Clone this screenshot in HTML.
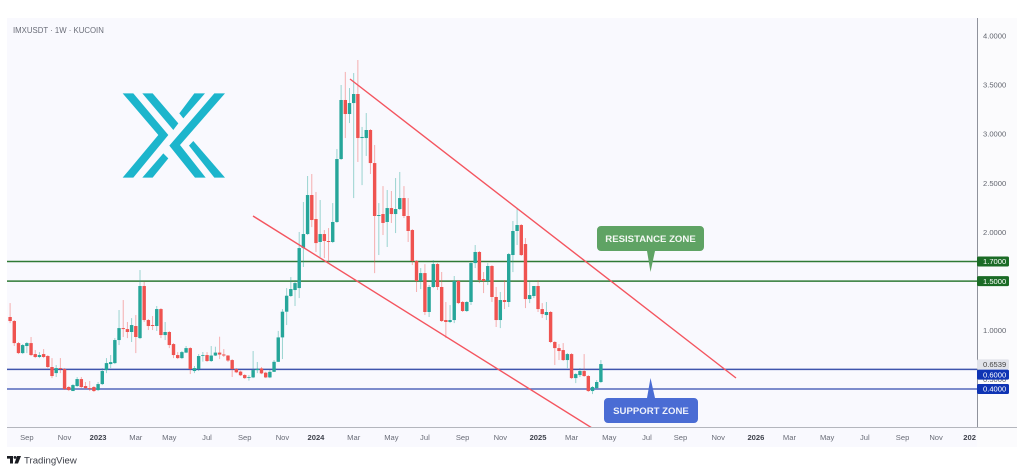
<!DOCTYPE html>
<html lang="en">
<head>
<meta charset="utf-8">
<title>IMXUSDT chart</title>
<style>
html,body{margin:0;padding:0;background:#fff;width:1024px;height:472px;overflow:hidden}
svg{display:block;font-family:"Liberation Sans",sans-serif}
</style>
</head>
<body>
<svg id="chart" xmlns="http://www.w3.org/2000/svg" width="1024" height="472" viewBox="0 0 1024 472">
  <defs><clipPath id="plot-clip"><rect x="7" y="19" width="970" height="408"/></clipPath></defs>
  <rect x="7" y="18" width="1010" height="429" fill="#f9f9fe"/>
  <rect x="977" y="18" width="40" height="429" fill="#fbfbfd"/>
  <text x="13" y="33" font-size="7.8" fill="#6a6d78">IMXUSDT · 1W · KUCOIN</text>
  <g id="hlines"></g>
  <g id="candles"></g>
  <g clip-path="url(#plot-clip)">
    <line x1="350" y1="79" x2="736" y2="378" stroke="#f4555f" stroke-width="1.4"/>
    <line x1="253" y1="216" x2="600" y2="433" stroke="#f4555f" stroke-width="1.4"/>
  </g>
  <g fill="#1cb5cc" transform="translate(100 80) scale(0.3333)">
    <polygon points="68,40 100,40 205,165 100,293 68,293 175,165"/>
    <polygon points="343,40 375,40 240,195 317,293 285,293 208,197"/>
    <polygon points="127,40 158,40 235,130 220,150"/>
    <polygon points="283,40 315,40 250,115 238,100"/>
    <polygon points="127,293 190,220 205,235 158,293"/>
    <polygon points="280,183 375,293 343,293 267,197"/>
  </g>
  <g>
    <path d="M601 226H700a4 4 0 0 1 4 4V247a4 4 0 0 1-4 4H655L650.5 272L647 251H601a4 4 0 0 1-4-4V230a4 4 0 0 1 4-4Z" fill="#5fa364"/>
    <text x="650.5" y="242" font-size="9.6" font-weight="bold" fill="#f4f8f4" text-anchor="middle">RESISTANCE ZONE</text>
  </g>
  <g>
    <path d="M608 398H647L650.5 378L655 398H694a4 4 0 0 1 4 4V419a4 4 0 0 1-4 4H608a4 4 0 0 1-4-4V402a4 4 0 0 1 4-4Z" fill="#4a6cd4"/>
    <text x="651" y="414" font-size="9.6" font-weight="bold" fill="#eef1fb" text-anchor="middle">SUPPORT ZONE</text>
  </g>
  <g id="price-axis"></g>
  <line x1="977.5" y1="18" x2="977.5" y2="427" stroke="#8f929c" stroke-width="1"/>
  <line x1="7" y1="427.5" x2="1017" y2="427.5" stroke="#b4b6bd" stroke-width="1"/>
  <g id="time-axis"></g>
  <g id="badges"></g>
  <g>
    <g fill="#1a1c22">
      <polygon points="7,456 13,456 13,463.5 10,463.5 10,458.6 7,458.6"/>
      <circle cx="15" cy="457.4" r="1.4"/>
      <polygon points="17,456 21,456 18,463.5 14.5,463.5"/>
    </g>
    <text x="24" y="463.5" font-size="9.6" fill="#3a3d46">TradingView</text>
  </g>
</svg>
<script>
const opens=[1.134,1.093,.868,.766,.838,.868,.756,.726,.756,.736,.624,.562,.613,.603,.420,.379,.430,.501,.430,.409,.420,.389,.450,.593,.654,.664,.899,1.021,1.011,.981,1.042,.919,1.450,1.103,1.052,1.042,1.215,.950,.981,.858,.746,.715,.771,.817,.583,.603,.741,.746,.685,.741,.771,.752,.741,.695,.603,.577,.542,.516,.518,.593,.610,.566,.518,.575,.677,.926,1.188,1.348,1.409,1.429,1.837,1.980,2.378,2.133,1.899,1.980,1.909,1.899,2.103,2.745,3.347,3.204,3.316,3.408,2.959,2.959,3.041,2.704,2.164,2.184,2.103,2.245,2.184,2.235,2.347,2.164,2.021,1.705,1.501,1.582,1.185,1.440,1.674,1.440,1.103,1.083,1.103,1.501,1.287,1.195,1.287,1.684,1.797,1.521,1.501,1.654,1.338,1.103,1.307,1.287,1.766,2.011,2.072,1.878,1.317,1.348,1.450,1.215,1.154,1.185,.879,.817,.797,.695,.756,.511,.542,.583,.532,.379,.409,.471];
const highs=[1.276,1.103,.879,.858,.879,.930,.797,.776,.807,.746,.715,.644,.715,.613,.430,.450,.522,.522,.471,.481,.430,.471,.613,.715,.746,.919,1.205,1.307,1.083,1.123,1.154,1.613,1.491,1.113,1.144,1.246,1.225,1.083,.991,.868,.776,.787,.838,.827,.634,.756,.777,.776,.838,.831,.933,.807,.746,.705,.613,.587,.552,.542,.787,.675,.624,.576,.593,.695,.992,1.215,1.429,1.541,1.511,2.001,2.307,2.572,2.592,2.409,2.327,2.021,2.041,2.296,2.847,3.500,3.633,3.469,3.622,3.755,3.072,3.214,3.051,2.888,2.296,2.469,2.429,2.419,2.551,2.613,2.469,2.347,2.031,1.715,1.633,1.673,1.460,1.715,1.684,1.593,1.287,1.256,1.552,1.511,1.297,1.297,1.695,1.868,1.807,1.593,1.684,1.664,1.440,1.389,1.511,1.787,2.113,2.235,2.082,1.939,1.491,1.450,1.511,1.276,1.287,1.195,.889,.858,.868,.766,.766,.562,.613,.756,.542,.430,.491,.695];
const lows=[1.072,.838,.756,.756,.766,.736,.715,.715,.715,.613,.511,.522,.562,.390,.379,.379,.420,.409,.399,.379,.369,.379,.440,.562,.613,.654,.848,.930,.919,.879,.766,.909,1.083,1.001,1.001,.991,.919,.899,.817,.715,.705,.705,.766,.552,.562,.583,.679,.675,.675,.736,.705,.726,.675,.522,.562,.532,.501,.485,.511,.562,.552,.511,.511,.573,.675,.705,1.052,1.338,1.246,1.327,1.644,1.970,2.051,1.797,1.746,1.735,1.695,1.888,2.093,2.735,2.959,3.112,2.347,2.715,2.479,2.776,2.592,1.582,1.766,1.970,1.848,2.093,1.990,2.225,2.143,1.899,1.664,1.389,1.419,1.154,1.134,1.429,1.409,1.083,.919,1.072,1.072,1.266,1.185,1.185,1.256,1.633,1.480,1.378,1.460,1.287,1.032,1.021,1.215,1.236,1.592,1.868,1.756,1.225,1.276,1.327,1.185,1.124,1.103,.868,.644,.695,.685,.613,.501,.460,.522,.522,.369,.348,.399,.460];
const closes=[1.093,.868,.766,.848,.868,.746,.726,.746,.726,.624,.532,.613,.603,.399,.389,.440,.501,.420,.409,.399,.379,.450,.583,.664,.674,.899,1.021,1.011,.981,1.052,.930,1.450,1.103,1.042,1.042,1.215,.950,.981,.848,.746,.715,.776,.817,.603,.613,.736,.746,.685,.741,.771,.751,.741,.690,.603,.570,.540,.511,.522,.593,.606,.559,.518,.575,.677,.926,1.188,1.351,1.419,1.480,1.837,1.980,2.378,2.123,1.888,1.980,1.909,1.899,2.103,2.745,3.347,3.204,3.316,3.408,2.959,2.970,3.041,2.704,2.164,2.174,2.093,2.245,2.184,2.235,2.347,2.164,2.011,1.705,1.501,1.582,1.185,1.440,1.674,1.440,1.093,1.083,1.103,1.501,1.276,1.195,1.287,1.684,1.797,1.511,1.501,1.654,1.338,1.103,1.307,1.287,1.776,2.011,2.072,1.766,1.317,1.358,1.450,1.215,1.164,1.185,.879,.817,.787,.695,.756,.511,.552,.583,.532,.379,.420,.471,.654];
const priceTicks=["4.0000","3.5000","3.0000","2.5000","2.0000","1.0000","0.5000"];
const timeLabels=["Sep","Nov","2023","Mar","May","Jul","Sep","Nov","2024","Mar","May","Jul","Sep","Nov","2025","Mar","May","Jul","Sep","Nov","2026","Mar","May","Jul","Sep","Nov","202"];
const timeWeeks=[4,13,21,30,38,47,56,65,73,82,91,99,108,117,126,134,143,152,160,169,178,186,195,204,213,221,229];
const levelValues=[1.7,1.5,0.6,0.4];
const levelColors=["#2f7a35","#2f7a35","#3f55ad","#5468bc"];
const badgeValues=["1.7000","1.5000","0.6539","0.6000","0.4000"];
const badgeFills=["#1b6b26","#1b6b26","#e1e3ea","#0f34b4","#0f34b4"];
const badgeInk=["#fff","#fff","#444","#fff","#fff"];
const badgeNudge=[0,0,0.3,5.3,0];

const NS="http://www.w3.org/2000/svg";
const xScale=i=>10.1+4.19*i;
const yScale=v=>428.2-98.06*v;
function make(tag,attrs,parent){
  const el=document.createElementNS(NS,tag);
  for(const k in attrs)el.setAttribute(k,attrs[k]);
  parent.appendChild(el);
  return el;
}

const levelsGroup=document.getElementById('hlines');
levelValues.forEach((v,i)=>{
  const ln=make('line',{x1:7,x2:977,y1:yScale(v),y2:yScale(v),stroke:levelColors[i],'stroke-width':1.5},levelsGroup);
  
  
});

const candlesGroup=document.getElementById('candles');
opens.forEach((o,i)=>{
  const c=closes[i],up=c>=o,col=up?'#26a69a':'#ef5350';
  const x=xScale(i);
  const g=make('g',{},candlesGroup);
  
  
  make('line',{x1:x,x2:x,y1:yScale(highs[i]),y2:yScale(lows[i]),stroke:col,'stroke-width':1,'stroke-opacity':.45},g);
  const top=yScale(Math.max(o,c)),bot=yScale(Math.min(o,c));
  make('rect',{x:x-1.7,y:top,width:3.4,height:Math.max(bot-top,.8),fill:col},g);
});

const priceAxis=document.getElementById('price-axis');
priceTicks.forEach(t=>{
  const el=make('text',{x:983,y:yScale(parseFloat(t))+2.7,'font-size':7.6,fill:'#62656f'},priceAxis);
  el.textContent=t;
  
  
});

const timeAxis=document.getElementById('time-axis');
timeLabels.forEach((t,i)=>{
  const isYear=/^20/.test(t);
  const x=xScale(timeWeeks[i]);
  const el=make('text',{x:x,y:440,'font-size':7.6,'text-anchor':'middle',fill:isYear?'#3f424c':'#6a6d78','font-weight':isYear?'bold':'normal'},timeAxis);
  el.textContent=t;
  
  
});

const badges=document.getElementById('badges');
badgeValues.forEach((t,i)=>{
  const cy=yScale(parseFloat(t))+badgeNudge[i];
  const g=make('g',{},badges);
  
  
  make('rect',{x:977,y:cy-5,width:32,height:10,rx:1.5,fill:badgeFills[i]},g);
  const tx=make('text',{x:983,y:cy+2.7,'font-size':7.6,fill:badgeInk[i]},g);
  tx.textContent=t;
});
</script>
</body>
</html>
